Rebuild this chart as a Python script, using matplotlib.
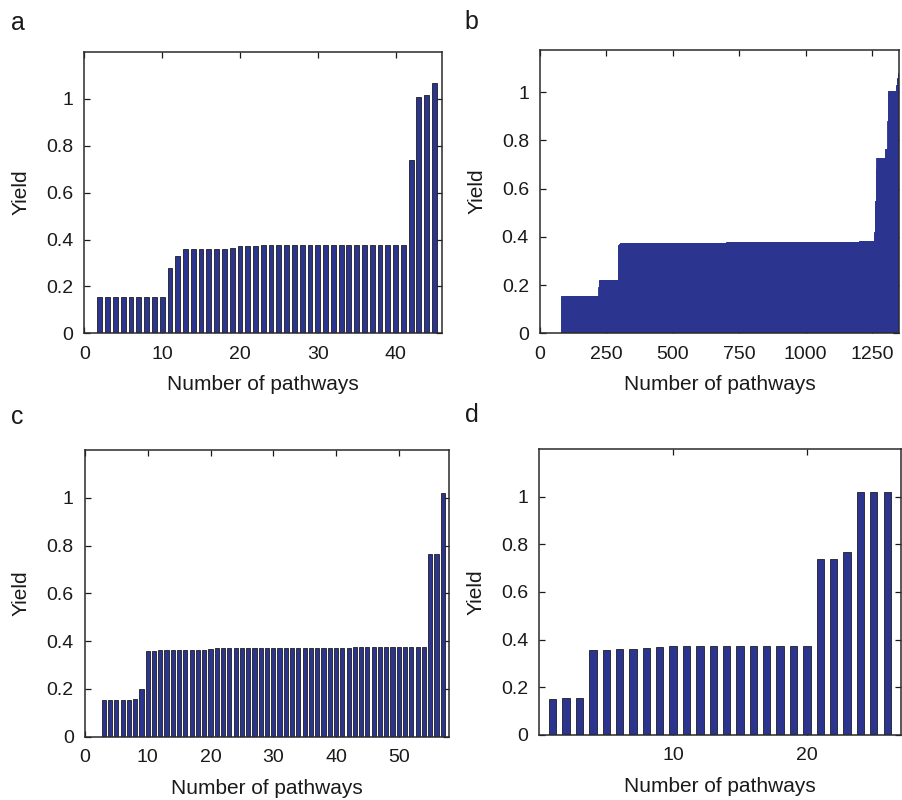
import numpy as np
import matplotlib
matplotlib.use("Agg")
from matplotlib import pyplot as plt

plt.rcParams['font.family'] = ['Liberation Sans', 'DejaVu Sans']

BAR_COLOR = '#2b3590'
EDGE_COLOR = '#1e1e1e'
TEXT_COLOR = '#1a1a1a'

# panel a: yield per pathway, pathways 1..45
a_yield = [0.0, 0.155, 0.155, 0.155, 0.155, 0.155, 0.155, 0.155, 0.155, 0.155,
           0.277, 0.328, 0.358, 0.358, 0.361, 0.361, 0.361, 0.361, 0.365, 0.372,
           0.374, 0.374, 0.376, 0.376, 0.376, 0.377, 0.377, 0.377, 0.377, 0.377,
           0.377, 0.377, 0.377, 0.377, 0.377, 0.377, 0.377, 0.377, 0.377, 0.377,
           0.377, 0.738, 1.008, 1.017, 1.066]

# panel b: 1352 pathways, read as runs of (level, count)
b_levels = [0.0, 0.155, 0.19, 0.205, 0.215, 0.222, 0.355, 0.365, 0.372, 0.375,
            0.377, 0.379, 0.381, 0.42, 0.55, 0.68, 0.726, 0.765, 0.88, 1.003,
            1.03, 1.06, 1.08]
b_counts = [79, 140, 1, 1, 1, 70, 2, 2, 4, 400,
            400, 100, 58, 2, 3, 3, 33, 9, 2, 30,
            4, 4, 4]

# panel c: pathways 1..57
c_yield = [0.0, 0.0, 0.153, 0.153, 0.153, 0.153, 0.153, 0.156, 0.198, 0.358,
           0.357, 0.361, 0.361, 0.361, 0.361, 0.361, 0.361, 0.361, 0.361, 0.368,
           0.371, 0.371, 0.371, 0.371, 0.371, 0.371, 0.371, 0.371, 0.371, 0.371,
           0.373, 0.373, 0.373, 0.373, 0.373, 0.373, 0.373, 0.373, 0.373, 0.373,
           0.373, 0.373, 0.375, 0.375, 0.375, 0.375, 0.375, 0.375, 0.375, 0.375,
           0.375, 0.375, 0.375, 0.375, 0.763, 0.763, 1.018]

# panel d: pathways 1..26
d_yield = [0.152, 0.157, 0.157, 0.358, 0.358, 0.361, 0.361, 0.365, 0.369, 0.373,
           0.375, 0.375, 0.375, 0.375, 0.375, 0.375, 0.375, 0.375, 0.375, 0.375,
           0.738, 0.738, 0.769, 1.02, 1.02, 1.02]

y_ticks = [0, 0.2, 0.4, 0.6, 0.8, 1.0]
y_ticklabels = ['0', '0.2', '0.4', '0.6', '0.8', '1']


def _style_axis(ax, xlim, ylim, xticks):
    ax.set_xlim(*xlim)
    ax.set_ylim(*ylim)
    ax.set_xticks(xticks)
    ax.set_xticklabels([str(t) for t in xticks])
    ax.set_yticks(y_ticks)
    ax.set_yticklabels(y_ticklabels)
    ax.tick_params(direction='in', length=4, width=0.9, top=True, right=True,
                   labelsize=14, colors=TEXT_COLOR)
    ax.tick_params(axis='x', pad=9)
    ax.tick_params(axis='y', pad=8)
    for spine in ax.spines.values():
        spine.set_linewidth(1.1)
        spine.set_color('#2a2a2a')
    ax.set_xlabel('Number of pathways', fontsize=15, color=TEXT_COLOR, va='top')
    ax.xaxis.set_label_coords(0.5, -0.148)
    ax.set_ylabel('Yield', fontsize=15, color=TEXT_COLOR)
    ax.yaxis.set_label_coords(-0.15, 0.5)


def _bar_panel(ax, values, width):
    xs = np.arange(1, len(values) + 1)
    ax.bar(xs, values, width=width, color=BAR_COLOR, edgecolor=EDGE_COLOR,
           linewidth=0.6, zorder=2)


fig = plt.figure(figsize=(9.02, 8.0), dpi=100)

ax_a = fig.add_axes([0.0935, 0.5834, 0.3968, 0.3516])
_bar_panel(ax_a, a_yield, 0.62)
_style_axis(ax_a, (0, 46), (0, 1.2), [0, 10, 20, 30, 40])

ax_b = fig.add_axes([0.5987, 0.5834, 0.398, 0.3541])
b_yield = np.repeat(b_levels, b_counts)
xb = np.arange(1, len(b_yield) + 1)
ax_b.bar(xb, b_yield, width=1.0, color=BAR_COLOR, edgecolor=BAR_COLOR,
         linewidth=0.6, zorder=2)
_style_axis(ax_b, (0, len(b_yield)), (0, 1.175), [0, 250, 500, 750, 1000, 1250])

ax_c = fig.add_axes([0.0942, 0.0791, 0.4036, 0.3584])
_bar_panel(ax_c, c_yield, 0.66)
_style_axis(ax_c, (0, 58), (0, 1.2), [0, 10, 20, 30, 40, 50])

ax_d = fig.add_axes([0.598, 0.0813, 0.4004, 0.3575])
_bar_panel(ax_d, d_yield, 0.55)
_style_axis(ax_d, (0, 27), (0, 1.2), [10, 20])

for label, (x, y) in zip('abcd', [(0.012, 0.971), (0.515, 0.973),
                                  (0.012, 0.479), (0.515, 0.481)]):
    fig.text(x, y, label, fontsize=18, color=TEXT_COLOR, ha='left', va='center')

fig.savefig('out.png', dpi=100)
